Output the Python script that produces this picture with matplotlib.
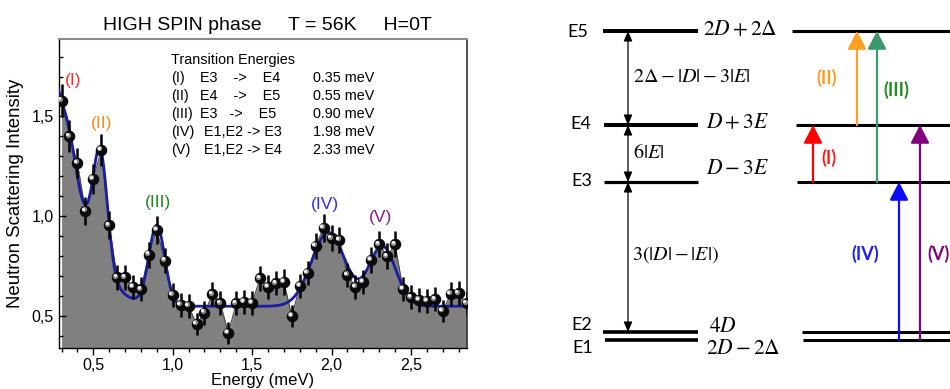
import numpy as np
import matplotlib
matplotlib.use("Agg")
import matplotlib.pyplot as plt
from matplotlib.ticker import MultipleLocator, FuncFormatter
from matplotlib.transforms import ScaledTranslation

plt.rcParams['font.family'] = ['Liberation Sans', 'DejaVu Sans']
plt.rcParams['mathtext.fontset'] = 'stix'

# ---------------- data ----------------
energy = [0.30, 0.35, 0.40, 0.45, 0.50, 0.55, 0.60, 0.65, 0.70, 0.75,
          0.80, 0.85, 0.90, 0.95, 1.00, 1.05, 1.10, 1.15, 1.20, 1.25,
          1.30, 1.35, 1.40, 1.45, 1.50, 1.55, 1.60, 1.65, 1.70, 1.75,
          1.80, 1.85, 1.90, 1.95, 2.00, 2.05, 2.10, 2.15, 2.20, 2.25,
          2.30, 2.35, 2.40, 2.45, 2.50, 2.55, 2.60, 2.65, 2.70, 2.75,
          2.80, 2.85]
intensity = [1.58, 1.40, 1.266, 1.028, 1.187, 1.331, 0.955, 0.694, 0.694, 0.647,
             0.634, 0.809, 0.931, 0.779, 0.605, 0.555, 0.550, 0.460, 0.518, 0.609,
             0.564, 0.416, 0.564, 0.572, 0.567, 0.689, 0.647, 0.664, 0.672, 0.500,
             0.652, 0.717, 0.851, 0.943, 0.890, 0.881, 0.706, 0.647, 0.672, 0.781,
             0.860, 0.800, 0.860, 0.635, 0.594, 0.580, 0.575, 0.584, 0.527, 0.610,
             0.614, 0.564]
error = [0.085, 0.08, 0.075, 0.07, 0.075, 0.08, 0.07, 0.065, 0.065, 0.06,
         0.06, 0.065, 0.07, 0.065, 0.06, 0.06, 0.06, 0.055, 0.06, 0.06,
         0.06, 0.055, 0.06, 0.06, 0.06, 0.065, 0.06, 0.06, 0.065, 0.055,
         0.06, 0.06, 0.065, 0.07, 0.065, 0.065, 0.06, 0.06, 0.06, 0.065,
         0.065, 0.065, 0.065, 0.06, 0.06, 0.06, 0.06, 0.06, 0.055, 0.06,
         0.06, 0.06]

# fitted model (Gaussian components)
fit_baseline = 0.55
fit_centers = [0.0, 0.35, 0.545, 0.90, 1.98, 2.32]
fit_amps = [1.86, 0.10, 0.56, 0.40, 0.37, 0.30]
fit_sigmas = [0.266, 0.04, 0.045, 0.05, 0.106, 0.085]

peak_labels = ['(I)', '(II)', '(III)', '(IV)', '(V)']
peak_label_pos = [(0.374, 1.678), (0.555, 1.467), (0.907, 1.071), (1.96, 1.06), (2.31, 0.996)]
peak_colors = ['#ff2a2a', '#ff8c1a', '#1a8c1a', '#2a2aff', '#8b1a8b']

trans_roman = ['(I)', '(II)', '(III)', '(IV)', '(V)']
trans_text = ['E3    ->    E4', 'E4    ->    E5', 'E3   ->    E5', ' E1,E2 -> E3', ' E1,E2 -> E4']
trans_energy = ['0.35 meV', '0.55 meV', '0.90 meV', '1.98 meV', '2.33 meV']

# energy level diagram (arbitrary diagram units)
level_names = ['E1', 'E2', 'E3', 'E4', 'E5']
level_y = [49, 57, 207, 264, 358]
level_expr = [r'$2D-2\Delta$', r'$4D$', r'$D-3E$', r'$D+3E$', r'$2D+2\Delta$']
gap_expr = [r'$3(|D|-|E|)$', r'$6|E|$', r'$2\Delta-|D|-3|E|$']
arrows_from = [2, 3, 2, 0, 0]
arrows_to = [3, 4, 4, 2, 3]
arrow_colors = ['#ff0000', '#ffa020', '#3a9a6e', '#0a0aff', '#800080']
arrow_label_colors = ['#ff1a1a', '#ff9a1f', '#1e8c1e', '#1a1aff', '#800080']

# ---------------- figure ----------------
fig = plt.figure(figsize=(9.5, 3.89), dpi=100)
ax = fig.add_axes([59/950, 1-348/389, 408/950, 309/389])

E = np.array(energy)
I = np.array(intensity)
ax.fill_between(E, I, 0, color='#808080', lw=0, zorder=1)
ax.plot(E, I, color='#4a4a4a', lw=0.8, zorder=2)

xf = np.linspace(0.284, 2.853, 600)
yf = np.full_like(xf, fit_baseline)
for c, a, s in zip(fit_centers, fit_amps, fit_sigmas):
    yf += a * np.exp(-(xf - c) ** 2 / (2 * s ** 2))
ax.plot(xf, yf, color='#1c1ca0', lw=2.0, zorder=4)

ax.errorbar(E, I, yerr=error, fmt='none', ecolor='black', elinewidth=1.8, capsize=0, zorder=5)
ax.plot(E, I, 'o', color='#0a0a0a', ms=7.3, mec='#0a0a0a', zorder=6)
off1 = ax.transData + ScaledTranslation(-1.3/72, 1.3/72, fig.dpi_scale_trans)
ax.plot(E, I, 'o', color='#8a8a8a', ms=3.8, mew=0, transform=off1, zorder=7)
off2 = ax.transData + ScaledTranslation(-1.6/72, 1.6/72, fig.dpi_scale_trans)
ax.plot(E, I, 'o', color='white', ms=2.2, mew=0, transform=off2, zorder=8)

ax.set_xlim(0.284, 2.853)
ax.set_ylim(0.341, 1.888)
ax.xaxis.set_major_locator(MultipleLocator(0.5))
ax.xaxis.set_minor_locator(MultipleLocator(0.1))
ax.yaxis.set_major_locator(MultipleLocator(0.5))
ax.yaxis.set_minor_locator(MultipleLocator(0.1))
fmt = FuncFormatter(lambda v, p: f'{v:.1f}'.replace('.', ','))
ax.xaxis.set_major_formatter(fmt)
ax.yaxis.set_major_formatter(fmt)
ax.tick_params(axis='x', which='major', direction='out', length=5, width=1, labelsize=11.5, pad=2)
ax.tick_params(axis='x', which='minor', direction='out', length=3, width=1)
ax.tick_params(axis='y', which='major', direction='in', length=5, width=1, labelsize=11.5, pad=4)
ax.tick_params(axis='y', which='minor', direction='in', length=3, width=1)
for sp in ['left', 'bottom']:
    ax.spines[sp].set_color('black')
    ax.spines[sp].set_linewidth(1.0)
ax.spines['top'].set_color('#8c8c8c')
ax.spines['top'].set_linewidth(1.5)
ax.spines['right'].set_color('#333333')
ax.spines['right'].set_linewidth(1.2)

ax.set_ylabel('Neutron Scattering Intensity', fontsize=13.4, labelpad=5)
ax.set_xlabel('Energy (meV)', fontsize=12, labelpad=0)
fig.text(267/950, 1-25/389, 'HIGH SPIN phase     T = 56K     H=0T', ha='center', va='center', fontsize=14)

for lab, (px, py), col in zip(peak_labels, peak_label_pos, peak_colors):
    ax.text(px, py, lab, color=col, fontsize=12.5, ha='center', va='center', zorder=9)

ax.text(0.2745, 0.932, 'Transition Energies', transform=ax.transAxes, fontsize=10.4, va='center')
rows_y = [0.874, 0.816, 0.757, 0.699, 0.641]
for r, t, e, yy in zip(trans_roman, trans_text, trans_energy, rows_y):
    ax.text(0.2745, yy, r, transform=ax.transAxes, fontsize=10.4, va='center')
    ax.text(0.346, yy, t, transform=ax.transAxes, fontsize=10.4, va='center')
    ax.text(0.623, yy, e, transform=ax.transAxes, fontsize=10.4, va='center')

# ---------------- energy level diagram ----------------
ax2 = fig.add_axes([540/950, 0, 410/950, 1])
ax2.set_xlim(0, 410)
ax2.set_ylim(0, 389)
ax2.axis('off')

left_x0 = [65, 63, 64, 64, 63]
left_lw = [2.6, 2.6, 2.3, 2.9, 2.9]
right_x0 = [263, 262, 257, 256, 252]
for i, y in enumerate(level_y):
    ax2.plot([left_x0[i], 158], [y, y], color='black', lw=left_lw[i], solid_capstyle='butt')
    ax2.plot([right_x0[i], 412], [y, y], color='black', lw=2.2, solid_capstyle='butt')

name_pos = [(43, 41), (42, 64), (42, 208), (41, 265), (38, 357)]
for n, (nx, ny) in zip(level_names, name_pos):
    ax2.text(nx, ny, n, family=['Lato', 'DejaVu Sans'], fontsize=13, ha='center', va='center')

expr_pos = [(166, 41), (169, 63), (166, 221), (166, 266), (163, 359)]
for ex, (ex_x, ex_y) in zip(level_expr, expr_pos):
    ax2.text(ex_x, ex_y, ex, fontsize=15.5, ha='left', va='center')

# double-headed arrows between levels
for lo, hi in [(1, 2), (2, 3), (3, 4)]:
    ax2.annotate('', xy=(88, level_y[hi]), xytext=(88, level_y[lo]),
                 arrowprops=dict(arrowstyle='<|-|>,head_length=0.75,head_width=0.32',
                                 mutation_scale=8, lw=0.9, color='black',
                                 shrinkA=0, shrinkB=0))
gap_pos = [(92, 134), (93, 237), (93, 313)]
for g, (gx, gy) in zip(gap_expr, gap_pos):
    ax2.text(gx, gy, g, fontsize=14.5, ha='left', va='center')

arrow_x = [273, 317, 337, 359, 380]
for k in range(5):
    ax2.annotate('', xy=(arrow_x[k], level_y[arrows_to[k]]), xytext=(arrow_x[k], level_y[arrows_from[k]]),
                 arrowprops=dict(arrowstyle='-|>,head_length=1.0,head_width=0.52',
                                 mutation_scale=11, lw=1.6, color=arrow_colors[k],
                                 shrinkA=0, shrinkB=0))

arrow_label_pos = [(289, 231, 'center'), (287, 311, 'center'), (356, 299, 'center'),
                   (325, 135, 'center'), (387, 135, 'left')]
for k, (lx, ly, ha) in enumerate(arrow_label_pos):
    ax2.text(lx, ly, peak_labels[k], color=arrow_label_colors[k], fontsize=13,
             family=['Lato', 'DejaVu Sans'], fontweight='bold', ha=ha, va='center')

fig.savefig('out.png', dpi=100)
